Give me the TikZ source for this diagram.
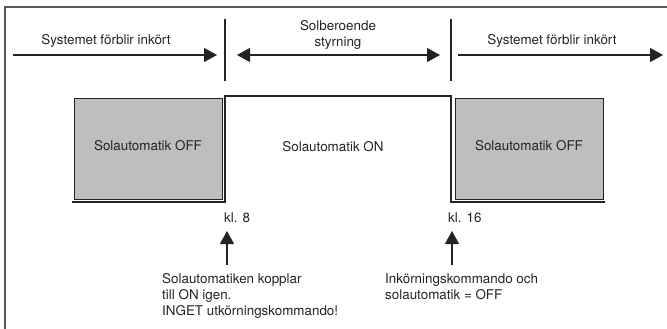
\documentclass[tikz,border=0pt]{standalone}
\usepackage{fontspec}
\setmainfont{TeX Gyre Heros}
\usetikzlibrary{arrows.meta,positioning}
\definecolor{avgra}{RGB}{190,190,193}
\definecolor{linje}{RGB}{35,35,35}

\begin{document}
\begin{tikzpicture}[x=1pt, y=-1pt, every node/.style={font=\fontsize{13.4}{16}\selectfont, inner sep=0pt, text=linje},
    pil/.style={-{Triangle[length=13pt, width=14pt]}, line width=1.2pt, draw=linje},
    dubbelpil/.style={{Triangle[length=13pt, width=14pt]}-{Triangle[length=13pt, width=14pt]}, line width=1.2pt, draw=linje},
    avbox/.style={draw=linje, fill=avgra, line width=1pt, minimum width=148pt, minimum height=100pt, text height=9.6pt, text depth=7.6pt}]
        \useasboundingbox (0,0) rectangle (667,329);
        \draw[line width=1.6pt, black!65] (5,329) -- (5,7) -- (667,7);

        % tidsavsnitt
        \node[anchor=base] (txt1) at (106,45) {Systemet förblir inkört};
        \node[anchor=north, align=center] (txt2) at (338,20) {Solberoende\\styrning};
        \node[anchor=base] (txt3) at (552,45) {Systemet förblir inkört};

        \coordinate (v1) at (13,55);  \coordinate (v2) at (217,55);
        \coordinate (m1) at (237,55); \coordinate (m2) at (440,55);
        \coordinate (h1) at (458,55); \coordinate (h2) at (663,55);
        \coordinate (d1) at (225,19); \coordinate (d2) at (225,81);
        \coordinate (e1) at (451,19); \coordinate (e2) at (451,81);

        \draw[pil] (v1) -- (v2);
        \draw[dubbelpil] (m1) -- (m2);
        \draw[pil] (h1) -- (h2);
        \draw[line width=1.3pt, linje] (d1) -- (d2);
        \draw[line width=1.3pt, linje] (e1) -- (e2);

        % signal
        \draw[line width=1.3pt, linje] (72,202) -- (225,202) -- (225,96) -- (451,96) -- (451,202) -- (605,202);
        \node[avbox] (av1) at (148,149) {Solautomatik OFF};
        \node[avbox] (av2) at (529,149) {Solautomatik OFF};
        \node (pa) at (333,147) {Solautomatik ON};

        \node[anchor=base west] (kl8) at (224,222) {kl. 8};
        \node[anchor=base west] (kl16) at (448,222) {kl. 16};

        \node[anchor=north west, align=left] (info8) at (162,273.5) {Solautomatiken kopplar\\till ON igen.\\INGET utkörningskommando!};
        \node[anchor=north west, align=left] (info16) at (385,273.5) {Inkörningskommando och\\solautomatik = OFF};

        \coordinate (fot8) at (227,265);  \coordinate (topp8) at (227,231);
        \coordinate (fot16) at (452,265); \coordinate (topp16) at (452,231);
        \draw[pil] (fot8) -- (topp8);
        \draw[pil] (fot16) -- (topp16);
    \end{tikzpicture}
\end{document}
